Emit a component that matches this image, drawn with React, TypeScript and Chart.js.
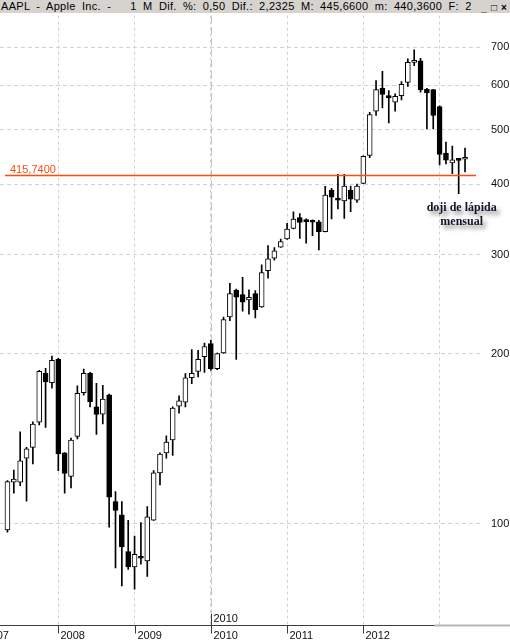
import React, { useEffect, useRef } from 'react';
import { Chart, registerables } from 'chart.js';

Chart.register(...registerables);

// Monthly candles, May 2007 .. May 2013
const firstYear = 2007;
const firstMonth = 5;
const months: string[] = [];
for (let i = 0; i < 73; i++) {
  const m = firstMonth - 1 + i;
  months.push(`${firstYear + Math.floor(m / 12)}-${String((m % 12) + 1).padStart(2, '0')}`);
}

const opens = [
  97.5, 118.4, 118.4, 130.7, 136.5, 151.4, 184.8, 177.8, 195.6, 133.5,
  121.3, 142.8, 170.8, 184.8, 161.1, 156.4, 169.2, 109.4, 103.7, 89.2,
  83.8, 87.5, 85.9, 101.4, 123.0, 133.5, 140.7, 161.6, 164.2, 181.5,
  186.3, 197.8, 208.7, 188.4, 200.9, 232.6, 259.3, 254.8, 249.3, 255.9,
  242.3, 281.0, 295.7, 309.5, 320.0, 334.2, 349.0, 344.0, 344.0, 343.3,
  329.6, 390.6, 377.5, 373.9, 390.6, 375.0, 401.6, 450.3, 539.2, 592.3,
  574.9, 559.6, 574.9, 606.7, 658.2, 662.8, 589.8, 589.1, 549.7, 454.6,
  436.4, 441.5, 443.2,
];
const highs = [
  119.2, 124.5, 145.5, 136.5, 151.6, 187.1, 188.6, 198.2, 196.4, 133.7,
  141.9, 175.5, 188.0, 185.5, 177.4, 176.0, 169.7, 114.0, 109.4, 101.3,
  95.0, 100.4, 107.2, 124.2, 133.6, 143.2, 161.1, 168.5, 184.5, 203.7,
  202.9, 209.0, 211.4, 200.8, 232.6, 266.8, 260.8, 273.4, 260.0, 259.0,
  287.9, 311.4, 309.0, 319.7, 341.0, 357.6, 355.1, 347.5, 346.1, 345.3,
  396.7, 393.5, 416.8, 416.8, 397.1, 400.3, 449.5, 537.0, 611.1, 634.6,
  586.7, 578.7, 608.9, 667.7, 693.1, 669.0, 592.4, 589.8, 551.0, 475.3,
  467.7, 442.8, 463.9,
];
const lows = [
  96.6, 113.2, 116.8, 109.6, 127.6, 149.7, 148.1, 173.9, 124.2, 113.2,
  115.7, 141.3, 169.0, 161.1, 143.9, 150.2, 98.6, 83.4, 77.5, 82.9,
  76.5, 84.7, 80.6, 101.3, 117.1, 130.6, 132.1, 157.0, 161.1, 177.1,
  182.0, 185.4, 187.1, 187.5, 200.5, 229.2, 195.6, 238.3, 235.4, 231.7,
  242.0, 272.6, 293.3, 309.0, 319.5, 333.5, 320.8, 314.4, 324.3, 305.9,
  329.3, 347.2, 361.6, 348.0, 357.6, 371.3, 401.0, 446.0, 529.9, 546.6,
  514.1, 539.2, 564.8, 597.0, 649.4, 582.8, 501.7, 501.7, 432.9, 434.7,
  417.8, 385.2, 420.7,
];
const closes = [
  118.7, 120.0, 129.2, 135.8, 150.2, 186.3, 178.5, 194.8, 132.9, 122.8,
  140.7, 170.3, 184.8, 164.6, 156.2, 166.3, 111.4, 105.5, 90.9, 83.8,
  88.2, 86.8, 102.8, 123.0, 132.9, 139.5, 160.3, 165.1, 181.5, 184.8,
  195.6, 206.2, 188.3, 200.4, 230.1, 255.9, 252.3, 247.2, 252.0, 239.7,
  279.0, 295.0, 304.8, 316.5, 333.3, 347.2, 342.3, 343.5, 342.6, 329.6,
  382.8, 379.7, 375.0, 397.1, 376.5, 397.1, 448.5, 532.1, 589.1, 577.3,
  569.3, 573.3, 602.0, 658.2, 659.5, 588.2, 581.0, 529.9, 451.8, 441.3,
  441.9, 441.0, 445.5,
];

const priceTicks = [100, 200, 300, 400, 500, 600, 700];
const yearLabels = ['2007', '2008', '2009', '2010', '2011', '2012'];
const yearLabelIdx = [-4, 8, 20, 32, 44, 56];
const yearGridIdx = [8, 20, 32, 44, 56, 68];
const cursorIdx = 32;
const cursorLabel = '2010';
const levelValue = 415.74;
const levelLabel = '415,7400';
const noteIdx = 71;
const noteLines = ['doji de lápida', 'mensual'];
const titleText = 'AAPL - Apple Inc. -   1 M Dif. %: 0,50 Dif.: 2,2325 M: 445,6600 m: 440,3600 F: 2';

const X_MIN = -1.174;
const X_MAX = 74.67;
const Y_MIN = 66.08;
const Y_MAX = 797;

const FONT = '"Liberation Sans", Arial, sans-serif';

const overlay = {
  id: 'overlay',
  beforeDatasetsDraw(chart: any) {
    const { ctx, chartArea, scales } = chart;
    const x = scales.x;
    const cx = Math.round(x.getPixelForValue(cursorIdx)) + 0.5;
    ctx.save();
    ctx.strokeStyle = '#c6c6c6';
    ctx.lineWidth = 1;
    ctx.setLineDash([8, 3]);
    ctx.beginPath();
    ctx.moveTo(cx, chartArea.top);
    ctx.lineTo(cx, chartArea.bottom);
    ctx.stroke();
    ctx.restore();
  },
  afterDatasetsDraw(chart: any) {
    const { ctx, chartArea, scales } = chart;
    const x = scales.x;
    const y = scales.y;
    ctx.save();
    // level line
    const ly = Math.round(y.getPixelForValue(levelValue)) + 0.5;
    ctx.strokeStyle = '#ff4a10';
    ctx.lineWidth = 1.4;
    ctx.beginPath();
    ctx.moveTo(5, ly);
    ctx.lineTo(chartArea.right - 6, ly);
    ctx.stroke();
    ctx.fillStyle = '#ff4a10';
    ctx.font = `11px ${FONT}`;
    ctx.textAlign = 'left';
    ctx.textBaseline = 'alphabetic';
    ctx.fillText(levelLabel, 10, ly - 3);

    // annotation
    const nx = x.getPixelForValue(noteIdx) + 3;
    const ny = y.getPixelForValue(lows[noteIdx]) + 17.5;
    ctx.font = `bold 12px "Liberation Serif", "DejaVu Serif", serif`;
    ctx.textAlign = 'center';
    ctx.shadowColor = 'rgba(0,0,0,0.45)';
    ctx.shadowBlur = 4;
    ctx.shadowOffsetX = 3;
    ctx.shadowOffsetY = 4;
    ctx.fillStyle = '#15152a';
    noteLines.forEach((t, i) => ctx.fillText(t, nx, ny + i * 14));
    ctx.restore();
  },
  afterDraw(chart: any) {
    const { ctx, chartArea, scales } = chart;
    const x = scales.x;
    const by = chartArea.bottom + 0.5;
    ctx.save();
    ctx.strokeStyle = '#3c3c3c';
    ctx.lineWidth = 1;
    ctx.beginPath();
    ctx.moveTo(0, by);
    ctx.lineTo(434, by);
    ctx.stroke();
    ctx.strokeStyle = '#b8b8b8';
    ctx.lineWidth = 2;
    ctx.beginPath();
    ctx.moveTo(434, by);
    ctx.lineTo(510, by);
    ctx.stroke();
    ctx.font = `11px ${FONT}`;
    ctx.fillStyle = '#111';
    ctx.textAlign = 'left';
    ctx.textBaseline = 'alphabetic';
    ctx.strokeStyle = '#3c3c3c';
    ctx.lineWidth = 1;
    yearLabelIdx.forEach((idx, i) => {
      const px = Math.round(x.getPixelForValue(idx)) + 0.5;
      ctx.beginPath();
      ctx.moveTo(px, by);
      ctx.lineTo(px, by + 8);
      ctx.stroke();
      ctx.fillText(yearLabels[i], px + 2, chartArea.bottom + 14);
    });
    // cursor marker
    const cx = Math.round(x.getPixelForValue(cursorIdx)) + 0.5;
    ctx.beginPath();
    ctx.moveTo(cx, chartArea.bottom - 11);
    ctx.lineTo(cx, by);
    ctx.stroke();
    ctx.fillText(cursorLabel, cx + 2, chartArea.bottom - 3);
    ctx.restore();
  },
};

export default function App() {
  const ref = useRef<HTMLCanvasElement>(null);
  useEffect(() => {
    const bodies = months.map((_, i) => ({ x: i, y: [opens[i], closes[i]] }));
    const wicks = months.map((_, i) => ({ x: i, y: [lows[i], highs[i]] }));
    const chart = new Chart(ref.current as HTMLCanvasElement, {
      type: 'bar',
      data: {
        datasets: [
          {
            label: 'body',
            data: bodies as any,
            order: 0,
            grouped: false,
            barThickness: 5,
            minBarLength: 2,
            borderWidth: 1,
            borderSkipped: false,
            borderColor: '#000',
            backgroundColor: (c: any) => (closes[c.dataIndex] >= opens[c.dataIndex] ? '#ffffff' : '#000000'),
          } as any,
          {
            label: 'wick',
            data: wicks as any,
            order: 1,
            grouped: false,
            barThickness: 1,
            borderWidth: 0,
            backgroundColor: '#000',
          } as any,
        ],
      },
      options: {
        responsive: false,
        animation: false,
        devicePixelRatio: 1,
        events: [],
        layout: { padding: { top: 13, left: 0, right: 0, bottom: 0 } },
        plugins: { legend: { display: false }, tooltip: { enabled: false }, title: { display: false } },
        scales: {
          x: {
            type: 'linear',
            min: X_MIN,
            max: X_MAX,
            bounds: 'data',
            offset: false,
            position: 'bottom',
            afterBuildTicks: (s: any) => {
              s.ticks = yearGridIdx.map((v) => ({ value: v }));
            },
            afterFit: (s: any) => {
              s.height = 16;
            },
            ticks: { display: false },
            grid: { color: '#d2d2d2', drawTicks: false, offset: false, lineWidth: 1 },
            border: { display: false, dash: [3, 3] },
          },
          y: {
            type: 'logarithmic',
            min: Y_MIN,
            max: Y_MAX,
            bounds: 'data',
            position: 'right',
            afterBuildTicks: (s: any) => {
              s.ticks = priceTicks.map((v) => ({ value: v }));
            },
            afterFit: (s: any) => {
              s.width = 28;
            },
            ticks: {
              autoSkip: false,
              padding: 9,
              color: '#111',
              font: { family: FONT, size: 11 },
              callback: (v: any) => String(v),
            },
            grid: { color: '#d2d2d2', drawTicks: false, lineWidth: 1 },
            border: { display: false, dash: [4, 3] },
          },
        },
      } as any,
      plugins: [overlay],
    });
    return () => chart.destroy();
  }, []);

  const btn: React.CSSProperties = {
    display: 'inline-block',
    width: 10,
    height: 11,
    textAlign: 'center',
    fontSize: 10,
    lineHeight: '11px',
    fontWeight: 'bold',
  };

  return (
    <div style={{ position: 'fixed', left: 0, top: 0, width: 510, height: 641, background: '#fff', overflow: 'hidden' }}>
      <canvas ref={ref} width={510} height={641} style={{ position: 'absolute', left: 0, top: 0, width: 510, height: 641 }} />
      <div
        style={{
          position: 'absolute',
          left: 0,
          top: 0,
          width: 510,
          height: 13,
          background: '#d6d3ce',
          fontFamily: FONT,
          fontSize: 11,
          lineHeight: '13px',
          color: '#000',
          whiteSpace: 'pre',
          overflow: 'hidden',
        }}
      >
        <span style={{ position: 'absolute', left: 1, top: 0, letterSpacing: '0.3px', wordSpacing: '3px' }}>{titleText}</span>
        <span style={{ position: 'absolute', right: 1, top: 1, background: '#d6d3ce' }}>
          <span style={btn}>_</span>
          <span style={btn}>□</span>
          <span style={btn}>×</span>
        </span>
      </div>
    </div>
  );
}
